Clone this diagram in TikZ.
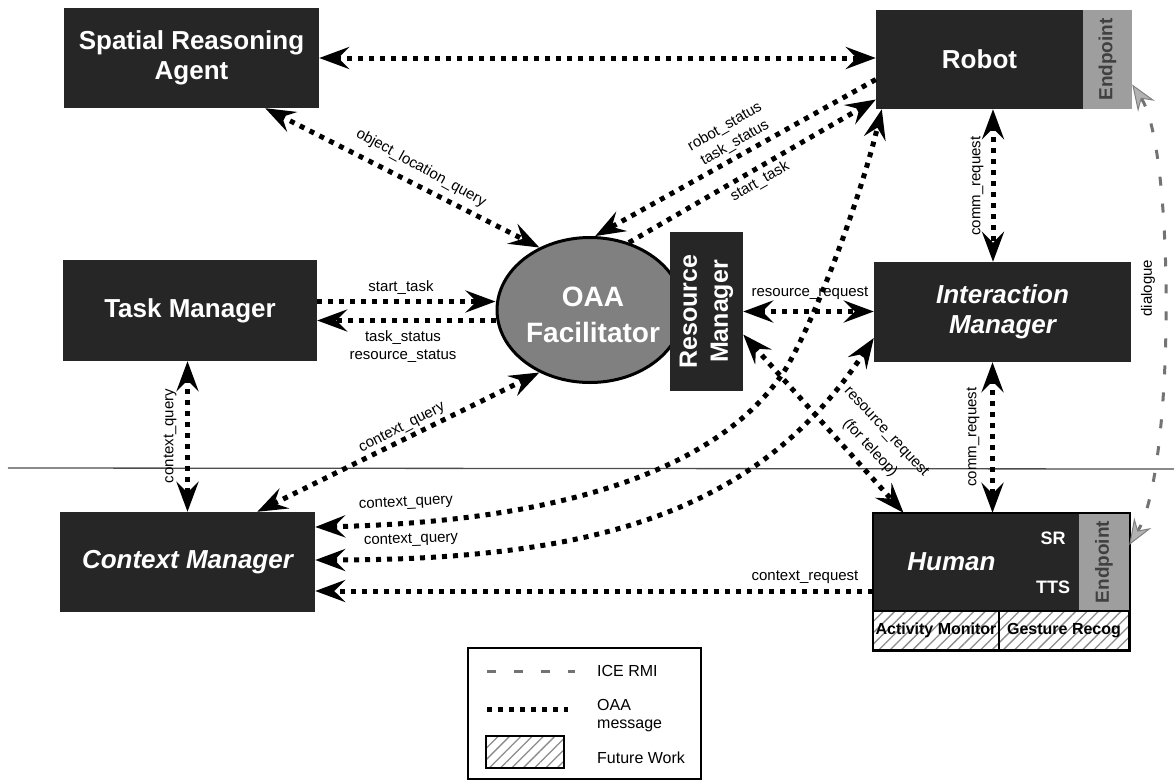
\documentclass[tikz,border=0pt]{standalone}
\usepackage{fontspec}
\setmainfont{Liberation Sans}
\usetikzlibrary{arrows.meta,shapes.geometric,patterns.meta}
\begin{document}
\begin{tikzpicture}[x=1pt,y=-1pt,
  box/.style={fill=black!85, draw=none, inner sep=0pt, text=white,
    font=\fontsize{26}{30}\selectfont\bfseries, align=center},
  boxit/.style={box, font=\fontsize{26}{30}\selectfont\bfseries\itshape},
  epbox/.style={fill=black!38, draw=none, inner sep=0pt},
  eptext/.style={rotate=90, text=black!75, font=\fontsize{19}{21}\selectfont\bfseries, inner sep=0pt},
  smallw/.style={text=white, font=\fontsize{18}{20}\selectfont\bfseries, inner sep=0pt},
  hatch/.style={draw=black, line width=2pt, inner sep=0pt,
    preaction={fill=white},
    pattern={Lines[angle=45,distance=8pt,line width=1.3pt]}, pattern color=black!45},
  hatchtext/.style={font=\fontsize{16}{18}\selectfont\bfseries, text=black, inner sep=0pt},
  lbl/.style={font=\fontsize{15}{17}\selectfont, inner sep=1pt, align=center},
  legtext/.style={font=\fontsize{16}{18}\selectfont, inner sep=0pt, align=left},
  oaa/.style={line width=5pt, dash pattern=on 5pt off 6pt, black,
    >={Stealth[length=30pt,width=22pt,inset=11pt]}},
  ice/.style={line width=3pt, dash pattern=on 9pt off 18pt, black!55,
    >={Stealth[length=26pt,width=20pt,inset=9pt,fill=black!30,color=black!50,line width=1pt]}}
]
\useasboundingbox (0,0) rectangle (1174,782);

% scan line
\draw[black!70, line width=1.3pt] (8,468) -- (1174,469);

% nodes
\node[box, minimum width=255pt, minimum height=100pt] (sra) at (191.5,58) {Spatial Reasoning\\Agent};
\node[box, minimum width=207pt, minimum height=99pt] (robot) at (979.5,59.5) {Robot};
\node[epbox, minimum width=49pt, minimum height=99pt] (robotep) at (1107.5,59.5) {};
\node[eptext] at (robotep.center) {Endpoint};
\node[box, minimum width=254pt, minimum height=101pt] (tm) at (190,310.5) {Task Manager};
\node[boxit, minimum width=257pt, minimum height=100pt] (im) at (1002.5,312) {Interaction\\Manager};
\node[boxit, minimum width=255pt, minimum height=100pt] (cm) at (187.5,562) {Context Manager};

\node[ellipse, fill=black!50, draw=black, line width=3pt, minimum width=186pt, minimum height=145pt,
  inner sep=0pt] (oaa) at (590,310) {};
\node[text=white, align=center, inner sep=0pt, font=\fontsize{28}{36}\selectfont\bfseries] (oaatext) at (593,315) {OAA\\Facilitator};
\node[box, minimum width=73pt, minimum height=159pt] (rm) at (706.5,311.5) {};
\node[rotate=90, text=white, align=center, inner sep=0pt, font=\fontsize{25}{31}\selectfont\bfseries] at (rm.center) {Resource\\Manager};

% human
\node[boxit, minimum width=157pt, minimum height=98pt] (human) at (951.5,562) {Human};
\node[box, minimum width=49pt, minimum height=98pt] (srtts) at (1054.5,562) {};
\node[smallw] at (1053,538) {SR};
\node[smallw] at (1053,587) {TTS};
\node[epbox, minimum width=50pt, minimum height=98pt] (hep) at (1104,562) {};
\node[eptext] at (hep.center) {Endpoint};
\node[hatch, minimum width=126pt, minimum height=39pt] (activity) at (936,630.5) {};
\node[hatchtext] at (activity.center) {Activity Monitor};
\node[hatch, minimum width=130pt, minimum height=39pt] (gesture) at (1064,630.5) {};
\node[hatchtext] at (gesture.center) {Gesture Recog};
\draw[line width=2.5pt] (human.north west) rectangle (gesture.south east);

% connectors
\draw[oaa,<->] (sra.east) -- (sra.east -| robot.west);
\draw[oaa,<->] ([xshift=-54pt]sra.south east) -- (oaa.129);
\draw[oaa,->] ([yshift=-20pt]robot.west) -- (oaa.86);
\draw[oaa,->] (oaa.60) -- ([yshift=-40pt]robot.west);
\draw[oaa,->] ([yshift=9pt]tm.east) -- ([yshift=9pt]tm.east -| oaa.west);
\draw[oaa,->] ([yshift=-10pt]tm.east -| oaa.west) -- ([yshift=-10pt]tm.east);
\draw[oaa,<->] (cm.north |- tm.south) -- (cm.north);
\draw[oaa,<->] (oaa.231) -- ([xshift=-58pt]cm.north east);
\draw[oaa,<->] (rm.east) -- (rm.east -| im.west);
\draw[oaa,<->] ([xshift=13.5pt]robot.south) -- ([xshift=13.5pt]robot.south |- im.north);
\draw[oaa,<->] ([xshift=-10pt]im.south) -- ([xshift=-10pt]im.south |- human.north);
\draw[oaa,<->] ([yshift=-23pt]rm.east) -- ([xshift=-48pt]human.north);
\draw[oaa,<->] ([yshift=35pt]cm.east) .. controls (560,522) and (720,470) .. (785,370)
  .. controls (815,320) and (860,200) .. ([xshift=6pt]robot.south west);
\draw[oaa,<->] ([yshift=2pt]cm.east) .. controls (600,560) and (760,510) .. ([yshift=-26pt]im.west);
\draw[oaa,->] ([yshift=-29pt]human.west) -- ([yshift=-29pt]human.west -| cm.east);
\draw[ice,<->] ([yshift=-25pt]robotep.east) .. controls (1175,150) and (1175,470) .. ([yshift=17pt]hep.east);

% labels
\node[lbl, rotate=-29] at (421,168) {object\_location\_query};
\node[lbl, rotate=30] at (725,127) {robot\_status};
\node[lbl, rotate=30] at (735,143) {task\_status};
\node[lbl, rotate=30] at (760,182) {start\_task};
\node[lbl] at (401,288) {start\_task};
\node[lbl] at (403,338) {task\_status};
\node[lbl] at (403,356) {resource\_status};
\node[lbl, rotate=90] at (170,436) {context\_query};
\node[lbl, rotate=27] at (402,428) {context\_query};
\node[lbl, rotate=3] at (406,503) {context\_query};
\node[lbl, rotate=2] at (411,540) {context\_query};
\node[lbl] at (805,577) {context\_request};
\node[lbl] at (810,293) {resource\_request};
\node[lbl, rotate=90] at (977,186) {comm\_request};
\node[lbl, rotate=90] at (973,437) {comm\_request};
\node[lbl, rotate=-47] at (886,432) {resource\_request};
\node[lbl, rotate=-47] at (870,448) {(for teleop)};
\node[lbl, rotate=90] at (1148,288) {dialogue};

% legend
\node[draw=black, line width=1.5pt, minimum width=233pt, minimum height=131pt, inner sep=0pt] (legend) at (584.5,713.5) {};
\coordinate (icea) at (487,671);
\coordinate (iceb) at (575,671);
\draw[ice] (icea) -- (iceb);
\node[legtext, anchor=west] at (597,671) {ICE RMI};
\coordinate (oaaa) at (487,709);
\coordinate (oaab) at (568,709);
\draw[oaa] (oaaa) -- (oaab);
\node[legtext, anchor=west] at (597,716) {OAA\\message};
\node[hatch, line width=1.5pt, minimum width=78pt, minimum height=32pt] (hsample) at (525,752) {};
\node[legtext, anchor=west] at (597,758) {Future Work};
\end{tikzpicture}
\end{document}
